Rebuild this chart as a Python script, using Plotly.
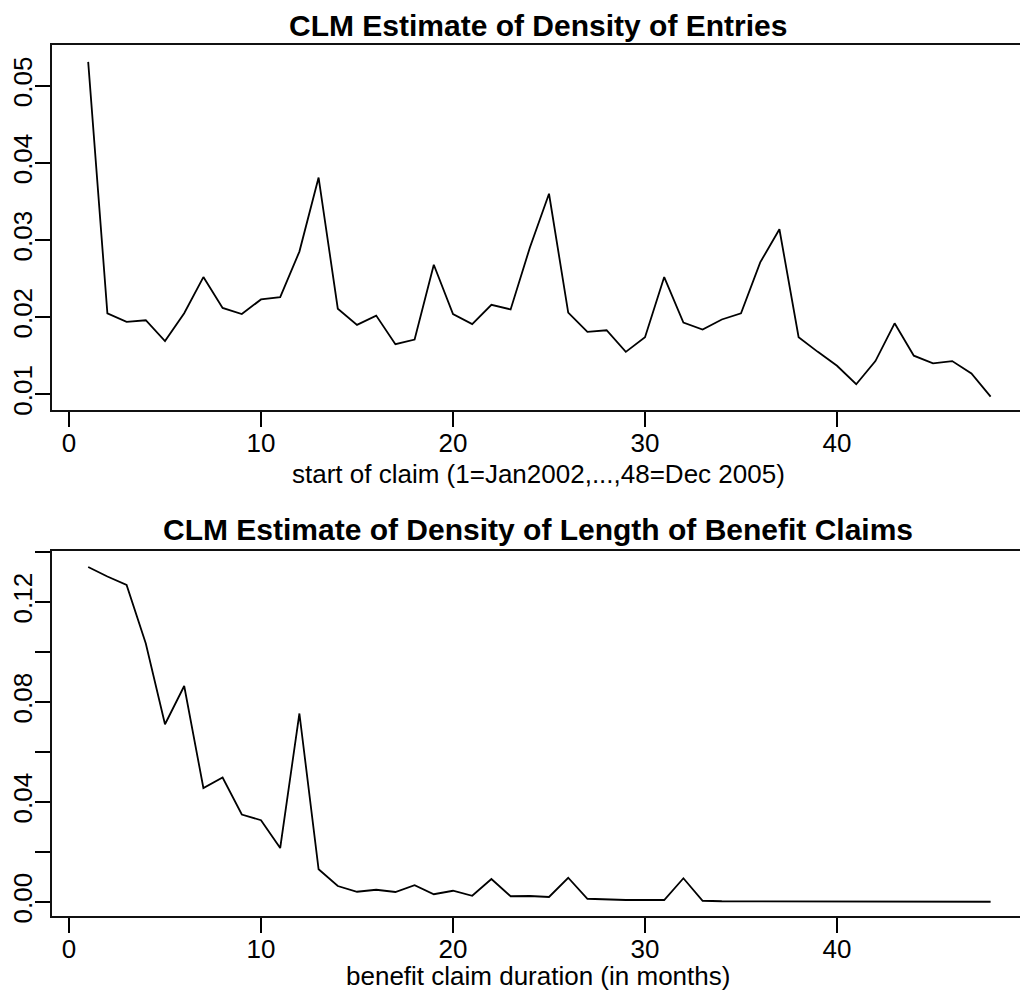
import plotly.graph_objects as go

# ---- data ----
months = list(range(1, 49))
entries_density = [0.0531, 0.0205, 0.0194, 0.0196, 0.0169, 0.0205, 0.0252, 0.0212,
                   0.0204, 0.0223, 0.0226, 0.0285, 0.0381, 0.0211, 0.0190, 0.0202,
                   0.0165, 0.0171, 0.0268, 0.0204, 0.0191, 0.0216, 0.0210, 0.0290,
                   0.0360, 0.0206, 0.0181, 0.0183, 0.0155, 0.0174, 0.0252, 0.0193,
                   0.0184, 0.0197, 0.0205, 0.0271, 0.0314, 0.0174, 0.0155, 0.0137,
                   0.0113, 0.0143, 0.0192, 0.0150, 0.0140, 0.0143, 0.0127, 0.0097]
duration_density = [0.1340, 0.1302, 0.1268, 0.1034, 0.0711, 0.0864, 0.0456, 0.0498,
                    0.0350, 0.0327, 0.0216, 0.0754, 0.0131, 0.0064, 0.0041, 0.0049,
                    0.0040, 0.0067, 0.0031, 0.0045, 0.0025, 0.0092, 0.0023, 0.0024,
                    0.0020, 0.0097, 0.0013, 0.0009, 0.0008, 0.0008, 0.0008, 0.0095,
                    0.0005, 0.0003, 0.0003, 0.0002, 0.0002, 0.0002, 0.0002, 0.0001,
                    0.0001, 0.0001, 0.0001, 0.0001, 0.0001, 0.0001, 0.0001, 0.0001]

x_ticks = [0, 10, 20, 30, 40]
y1_ticks = [0.01, 0.02, 0.03, 0.04, 0.05]
y1_labels = ["0.01", "0.02", "0.03", "0.04", "0.05"]
y2_ticks = [0.00, 0.02, 0.04, 0.06, 0.08, 0.10, 0.12, 0.14]
y2_labels = ["0.00", "", "0.04", "", "0.08", "", "0.12", ""]

title1 = "CLM Estimate of Density of Entries"
title2 = "CLM Estimate of Density of Length of Benefit Claims"
xlab1 = "start of claim (1=Jan2002,...,48=Dec 2005)"
xlab2 = "benefit claim duration (in months)"

W, H = 1020, 997
FONT = "Liberation Sans, Arial, Helvetica, sans-serif"
FS = 26
CX = 538 / W

def px_y(p):
    return 1 - p / H

fig = go.Figure()
fig.add_trace(go.Scatter(x=months, y=entries_density, mode="lines",
                         line=dict(color="black", width=1.8),
                         xaxis="x", yaxis="y", showlegend=False))
fig.add_trace(go.Scatter(x=months, y=duration_density, mode="lines",
                         line=dict(color="black", width=1.8),
                         xaxis="x2", yaxis="y2", showlegend=False))

xdom = [52 / W, 1.0]
xrange_ = [-0.885, 49.53]
axis_common = dict(showgrid=False, zeroline=False, ticks="outside", ticklen=15,
                   tickwidth=1.5, tickcolor="black", showline=True, linecolor="#111",
                   linewidth=2, tickfont=dict(family=FONT, size=FS, color="black"),
                   automargin=False)

fig.update_layout(
    width=W, height=H,
    margin=dict(l=0, r=0, t=0, b=0),
    paper_bgcolor="white", plot_bgcolor="white",
    xaxis=dict(domain=xdom, range=xrange_, anchor="y", tickvals=x_ticks,
               mirror=True, ticklabelstandoff=-6, **axis_common),
    yaxis=dict(domain=[px_y(410), px_y(45)], range=[0.00796, 0.05529], anchor="x",
               tickvals=y1_ticks, ticktext=y1_labels, tickangle=-90,
               ticklabelstandoff=-7, **axis_common),
    xaxis2=dict(domain=xdom, range=xrange_, anchor="y2", tickvals=x_ticks,
                mirror=True, ticklabelstandoff=-6, **axis_common),
    yaxis2=dict(domain=[px_y(915.7), px_y(550.7)], range=[-0.00548, 0.14052], anchor="x2",
                tickvals=y2_ticks, ticktext=y2_labels, tickangle=-90,
                ticklabelstandoff=-7, **axis_common),
)

ann = []
ann.append(dict(text="<b>" + title1 + "</b>", x=CX, y=px_y(25), xref="paper", yref="paper",
                xanchor="center", yanchor="middle", showarrow=False,
                font=dict(family=FONT, size=30, color="black")))
ann.append(dict(text="<b>" + title2 + "</b>", x=CX, y=px_y(529), xref="paper", yref="paper",
                xanchor="center", yanchor="middle", showarrow=False,
                font=dict(family=FONT, size=30, color="black")))
ann.append(dict(text=xlab1, x=CX, y=px_y(474), xref="paper", yref="paper",
                xanchor="center", yanchor="middle", showarrow=False,
                font=dict(family=FONT, size=FS, color="black")))
ann.append(dict(text=xlab2, x=CX, y=px_y(976), xref="paper", yref="paper",
                xanchor="center", yanchor="middle", showarrow=False,
                font=dict(family=FONT, size=FS, color="black")))
fig.update_layout(annotations=ann)

fig.write_html("out.html")
